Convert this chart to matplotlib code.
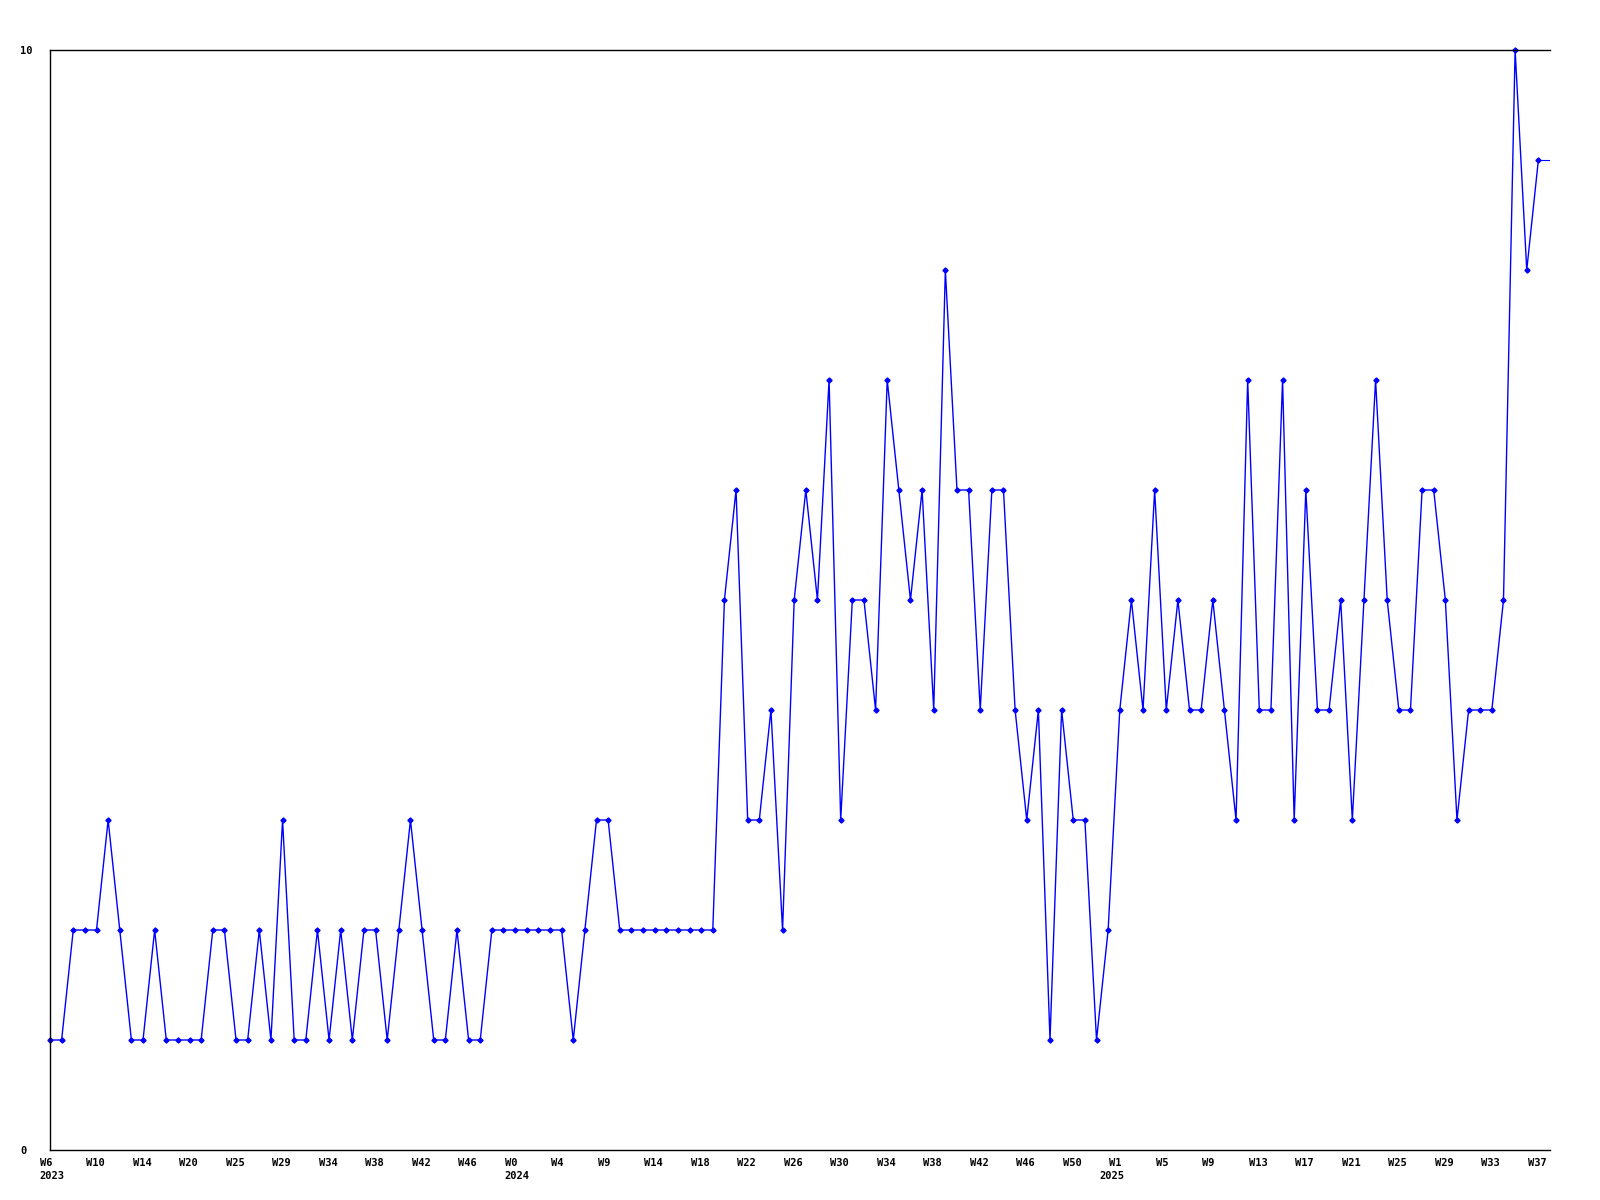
import numpy as np
import matplotlib
matplotlib.use("Agg")
import matplotlib.pyplot as plt
from matplotlib.transforms import ScaledTranslation, blended_transform_factory

# Weekly counts, one per point
values = [
    1, 1, 2, 2, 2, 3, 2, 1, 1, 2, 1, 1, 1, 1, 2, 2, 1, 1, 2, 1,
    3, 1, 1, 2, 1, 2, 1, 2, 2, 1, 2, 3, 2, 1, 1,
    2, 1, 1, 2, 2, 2, 2, 2, 2, 2, 1, 2, 3, 3, 2, 2, 2, 2, 2, 2, 2, 2, 2,
    5, 6, 3, 3, 4, 2, 5, 6, 5, 7, 3, 5, 5, 4, 7, 6, 5, 6, 4, 8, 6, 6, 4, 6, 6, 4, 3,
    4, 1, 4, 3, 3, 1, 2, 4, 5, 4, 6, 4, 5, 4, 4, 5, 4, 3, 7, 4, 4, 7, 3, 6, 4, 4, 5,
    3, 5, 7, 5, 4, 4, 6, 6, 5, 3, 4, 4, 4, 5, 10, 8, 9,
]

# Tick labels (one every 4 points)
week_labels = [
    "W6", "W10", "W14", "W20", "W25", "W29", "W34", "W38", "W42", "W46",
    "W0", "W4", "W9", "W14", "W18", "W22", "W26", "W30", "W34", "W38", "W42", "W46", "W50",
    "W1", "W5", "W9", "W13", "W17", "W21", "W25", "W29", "W33", "W37",
]
# year label -> index of the week tick it sits under
years = ["2023", "2024", "2025"]
year_ticks = [0, 10, 23]
y_max = 10

n = len(values)
x = np.arange(n)

fig = plt.figure(figsize=(16, 12), dpi=100)
ax = fig.add_axes([50 / 1600, 50 / 1200, 1500 / 1600, 1100 / 1200])

blue = "#0000ff"
ax.plot(x, values, color=blue, lw=1.0, marker="D", markersize=2.6,
        markerfacecolor=blue, markeredgecolor=blue, clip_on=False)
# line runs on flat to the right edge after the last week
ax.plot([x[-1], n], [values[-1], values[-1]], color=blue, lw=0.8)

ax.set_xlim(0, n)
ax.set_ylim(0, y_max)

for s in ["left", "top", "bottom"]:
    ax.spines[s].set_color("black")
    ax.spines[s].set_linewidth(1.0)
ax.spines["right"].set_visible(False)

font = dict(family="DejaVu Sans Mono", weight="bold", size=7.5)

tick_pos = x[::4]
ax.set_xticks(tick_pos)
ax.set_xticklabels(week_labels, **font)
ax.tick_params(axis="x", length=0, pad=5.5)
shift = ScaledTranslation(-10.5 / 100, 0, fig.dpi_scale_trans)
for lab in ax.get_xticklabels():
    lab.set_horizontalalignment("left")
    lab.set_verticalalignment("top")
    lab.set_transform(lab.get_transform() + shift)

# years under their first week label; the last one sits a bit further left
trans = blended_transform_factory(ax.transData, ax.transAxes)
for k, (yr, t) in enumerate(zip(years, year_ticks)):
    dx = -10.5 if k < 2 else -20.5
    off = ScaledTranslation(dx / 100, -21 / 100, fig.dpi_scale_trans)
    ax.text(tick_pos[t], 0, yr, transform=trans + off, ha="left", va="top", **font)

ax.set_yticks([0, y_max])
ax.set_yticklabels(["0", str(y_max)], **font)
ax.tick_params(axis="y", length=0, pad=21.6)
for lab in ax.get_yticklabels():
    lab.set_horizontalalignment("left")

fig.savefig("out.png", dpi=100)
